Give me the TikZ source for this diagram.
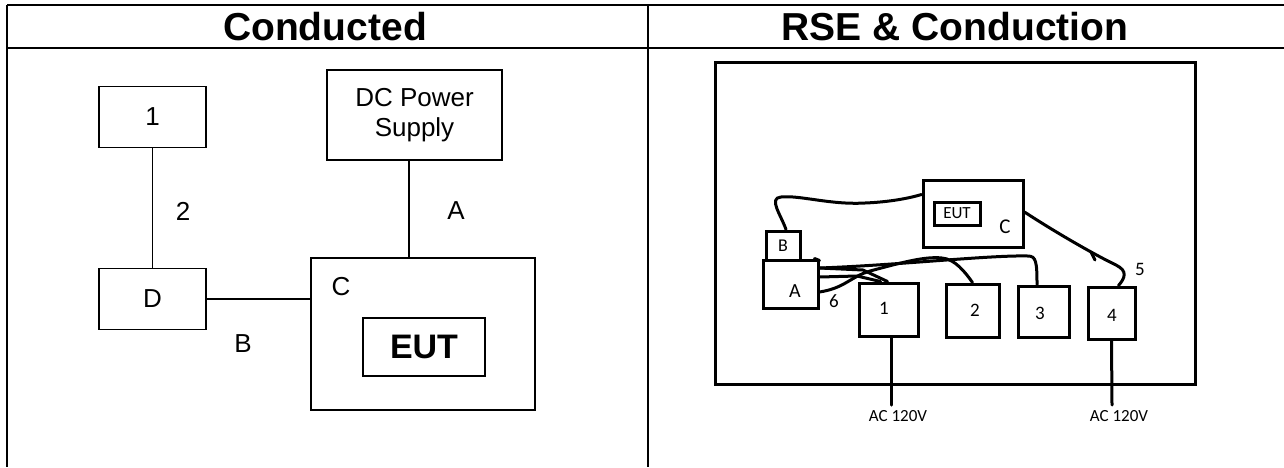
\documentclass[tikz,border=0pt]{standalone}
\usepackage{fontspec}
\setmainfont{Liberation Sans}
\newfontfamily\calib{Carlito}
\begin{document}
\begin{tikzpicture}[x=1pt,y=-1pt,
  lbox/.style={draw, line width=1.3pt, inner sep=0pt, align=center, font=\fontsize{26}{30}\selectfont},
  rbox/.style={draw, line width=3pt, inner sep=0pt, font=\calib\fontsize{18}{20}\selectfont},
  lline/.style={line width=1.3pt},
  rline/.style={line width=3pt, line cap=round, line join=round},
  gridline/.style={line width=2pt},
  lab/.style={inner sep=0pt, font=\fontsize{26}{30}\selectfont},
  rlab/.style={inner sep=0pt, font=\calib\fontsize{19}{22}\selectfont},
  head/.style={inner sep=0pt, font=\bfseries\fontsize{39}{43}\selectfont}]
\useasboundingbox (0,0) rectangle (1284,467);
% table
\draw[gridline] (7,5) -- (1284,5);
\draw[gridline] (7,48) -- (1284,48);
\draw[gridline] (7,5) -- (7,467);
\draw[gridline] (648,5) -- (648,467);
\node[head] (h1) at (325,27) {Conducted};
\node[head] (h2) at (955,27) {RSE \& Conduction};
% left panel
\node[lbox, minimum width=107pt, minimum height=61pt] (one) at (152.5,117) {1};
\node[lbox, minimum width=107pt, minimum height=61pt] (D) at (152.5,299) {D};
\node[lbox, minimum width=175pt, minimum height=90pt] (DC) at (414.5,115) {DC Power\\Supply};
\node[lbox, minimum width=224pt, minimum height=152pt] (C) at (423,334) {};
\node[lbox, minimum width=122pt, minimum height=58pt, font=\bfseries\fontsize{34}{38}\selectfont] (EUT) at (424,347) {EUT};
\node[lab] (labC) at (341,287) {C};
\draw[lline] (one.south) -- (D.north);
\draw[lline] ([xshift=-5.5pt]DC.south) -- ([xshift=-5.5pt]DC.south |- C.north);
\draw[lline] (D.east) -- (D.east -| C.west);
\node[lab] (lab2) at (183,211) {2};
\node[lab] (labA) at (456,211) {A};
\node[lab] (labB) at (243,344) {B};
% right panel
\node[draw, line width=3pt, minimum width=480pt, minimum height=322pt] (frame) at (955,223) {};
\node[rbox, minimum width=100pt, minimum height=67pt] (rC) at (973,213.5) {};
\node[rbox, minimum width=46pt, minimum height=23pt, font=\calib\fontsize{17}{19}\selectfont] (rEUT) at (957,213.5) {EUT};
\node[rlab, font=\calib\fontsize{21}{24}\selectfont] (labrC) at (1005,227) {C};
\node[rbox, minimum width=34pt, minimum height=29pt] (rB) at (783,245.5) {B};
\node[rbox, minimum width=55pt, minimum height=48pt] (rA) at (790.5,284) {};
\node[rlab, font=\calib\fontsize{20}{22}\selectfont] (labrA) at (795,291) {A};
\node[rbox, minimum width=59pt, minimum height=53pt] (r1) at (888.5,309.5) {};
\node[rlab] (lab1) at (884,308) {1};
\node[rbox, minimum width=53pt, minimum height=53pt] (r2) at (972.5,310.5) {};
\node[rlab] (lab2r) at (975,310) {2};
\node[rbox, minimum width=51pt, minimum height=51pt] (r3) at (1043.5,311.5) {};
\node[rlab] (lab3) at (1040,313) {3};
\node[rbox, minimum width=47pt, minimum height=52pt] (r4) at (1111.5,313) {};
\node[rlab] (lab4) at (1112,315) {4};
\node[rlab] (lab6) at (834,301) {6};
\node[rlab] (lab5) at (1140,269) {5};
\node[rlab, font=\calib\fontsize{17}{20}\selectfont] (ac1) at (898,416) {AC 120V};
\node[rlab, font=\calib\fontsize{17}{20}\selectfont] (ac2) at (1119,416) {AC 120V};
\coordinate (ac1top) at (891,405);
\coordinate (ac2top) at (1112,405);
\draw[rline] ([xshift=2.5pt]r1.south) -- (ac1top);
\draw[rline] (r4.south) -- (ac2top);
% cables
\draw[rline] ([xshift=3pt]rB.north) .. controls (781,215) and (768,198) .. (781,197)
  .. controls (800,195) and (830,205) .. (865,203)
  .. controls (890,202) and (910,198) .. ([yshift=19pt]rC.west);
\draw[rline] ([yshift=1.5pt]rC.east) .. controls (1055,232) and (1095,255) .. (1116,265)
  .. controls (1128,271) and (1125,278) .. ([xshift=7pt]r4.north);
\draw[rline] (1091,252) -- (1095,260);
\draw[rline] ([yshift=16pt]rA.east) -- (863,270) -- ([xshift=-1pt]r1.north);
\draw[rline] ([yshift=7pt]rA.east) -- (857,276) -- ([xshift=-8pt]r1.north);
\draw[rline] ([yshift=-8pt]rA.east) .. controls (845,288) and (850,277) .. (870,271)
  .. controls (900,263) and (925,256) .. (942,258)
  .. controls (955,259) and (965,272) .. (r2.north);
\draw[rline] ([yshift=16pt]rA.east) .. controls (900,265) and (990,255) .. (1028,256)
  .. controls (1036,256) and (1037,262) .. ([xshift=-6.5pt]r3.north);
\draw[rline] ([xshift=-5pt]rA.north east) -- ([yshift=-2pt]rA.north east);
\end{tikzpicture}
\end{document}
